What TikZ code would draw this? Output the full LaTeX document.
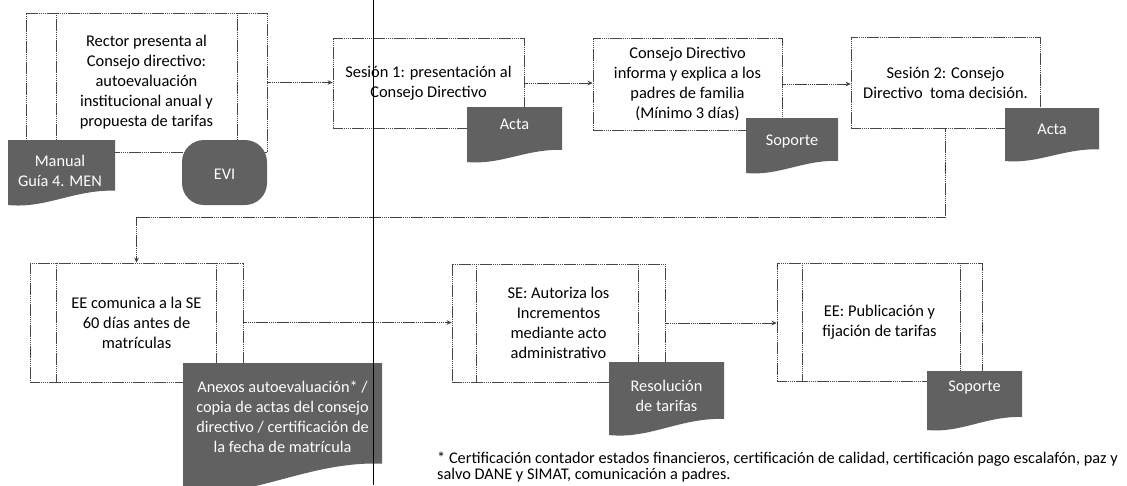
\documentclass[tikz,border=0pt]{standalone}
\usepackage{fontspec}
\setmainfont{Carlito}
\usetikzlibrary{arrows.meta}
\newcommand\docsh[4]{%
  \fill[docfill] (#1,#2) -- (#3,#2) -- (#3,{#4-0.22*(#4-#2)})
    .. controls ({#1+0.62*(#3-#1)},{#4-0.24*(#4-#2)}) and ({#1+0.35*(#3-#1)},{#4+0.06*(#4-#2)}) .. (#1,#4) -- cycle;}
\begin{document}
\begin{tikzpicture}[x=1pt,y=-1pt,
  boxtxt/.style={font=\fontsize{16.4}{20}\selectfont, align=center},
  proc/.style={draw=black!72, line width=0.7pt, dash pattern=on 1.6pt off 0.5pt, inner sep=0pt, boxtxt},
  procline/.style={draw=black!72, line width=0.7pt, dash pattern=on 1.6pt off 0.5pt},
  docfill/.style={fill=black!62},
  doctext/.style={text=white, font=\fontsize{16.3}{20}\selectfont, align=center, inner sep=0pt},
  arr/.style={draw=black!75, line width=0.7pt, dash pattern=on 1.6pt off 0.5pt, -{Stealth[length=5pt,width=4.5pt]}}
]
\useasboundingbox (0,0) rectangle (1127,485);
\clip (0,0) rectangle (1127,485);
\fill[white] (0,0) rectangle (1127,485);

% process boxes
\node[proc, minimum width=241pt, minimum height=139pt] (b1) at (146.5,82.5)
  {Rector presenta al\\Consejo directivo:\\autoevaluación\\institucional anual y\\propuesta de tarifas};
\draw[procline] ([xshift=31pt]b1.north west) -- ([xshift=31pt]b1.south west);
\draw[procline] ([xshift=-30pt]b1.north east) -- ([xshift=-30pt]b1.south east);

\node[proc, minimum width=191pt, minimum height=90pt] (b2) at (428.5,83)
  {Sesión 1: presentación al\\Consejo Directivo};
\node[proc, minimum width=189pt, minimum height=92pt] (b3) at (687.5,84)
  {Consejo Directivo\\informa y explica a los\\padres de familia\\(Mínimo 3 días)};
\node[proc, minimum width=189pt, minimum height=91pt] (b4) at (945.5,82.5)
  {Sesión 2: Consejo\\Directivo\ \ toma decisión.};

\node[proc, minimum width=213pt, minimum height=119pt] (b5) at (136.5,322.5)
  {EE comunica a la SE\\60 días antes de\\matrículas};
\draw[procline] ([xshift=27pt]b5.north west) -- ([xshift=27pt]b5.south west);
\draw[procline] ([xshift=-27pt]b5.north east) -- ([xshift=-27pt]b5.south east);

\node[proc, minimum width=213pt, minimum height=118pt] (b6) at (558.5,323)
  {SE: Autoriza los\\Incrementos\\mediante acto\\administrativo};
\draw[procline] ([xshift=25pt]b6.north west) -- ([xshift=25pt]b6.south west);
\draw[procline] ([xshift=-27pt]b6.north east) -- ([xshift=-27pt]b6.south east);

\node[proc, minimum width=205pt, minimum height=118pt] (b7) at (879.5,322)
  {EE: Publicación y\\fijación de tarifas};
\draw[procline] ([xshift=26pt]b7.north west) -- ([xshift=26pt]b7.south west);
\draw[procline] ([xshift=-22pt]b7.north east) -- ([xshift=-22pt]b7.south east);

% connectors
\draw[arr] (b1.east) -- (b1.east -| b2.west);
\draw[arr] (b2.east) -- (b2.east -| b3.west);
\draw[arr] (b3.east) -- (b3.east -| b4.west);
\coordinate (bend) at (540,217);
\draw[arr] (b4.south) |- (bend) -| (b5.north);
\draw[arr] (b5.east) -- (b5.east -| b6.west);
\draw[arr] (b6.east) -- (b6.east -| b7.west);

% documents and terminal
\docsh{8}{140}{115}{205}
\node[doctext] (manual) at (60,171) {Manual\\Guía 4. MEN};
\fill[docfill, rounded corners=22pt] (182,140) rectangle (267,205);
\node[doctext] (evi) at (224.5,174) {EVI};
\docsh{467}{107}{562}{162}
\node[doctext] (acta1) at (514.5,124) {Acta};
\docsh{746}{118}{838}{173}
\node[doctext] (soporte1) at (792,142) {Soporte};
\docsh{1005}{108}{1099}{161}
\node[doctext] (acta2) at (1052,129) {Acta};
\docsh{183}{363}{382}{492}
\node[doctext] (anexos) at (282.5,417) {Anexos autoevaluación* /\\copia de actas del consejo\\directivo / certificación de\\la fecha de matrícula};
\docsh{609}{362}{724}{435}
\node[doctext] (resol) at (666.5,396) {Resolución\\de tarifas};
\docsh{927}{371}{1022}{430}
\node[doctext] (soporte2) at (974.5,388) {Soporte};

% footnote
\node[anchor=north west, align=left, inner sep=0pt, font=\fontsize{16.3}{16}\selectfont] (note) at (437,452)
  {* Certificación contador estados financieros, certificación de calidad, certificación pago escalafón, paz y\\salvo DANE y SIMAT, comunicación a padres.};

% scan line
\draw[black, line width=1pt] (373,0) -- (373,485);
\end{tikzpicture}
\end{document}
